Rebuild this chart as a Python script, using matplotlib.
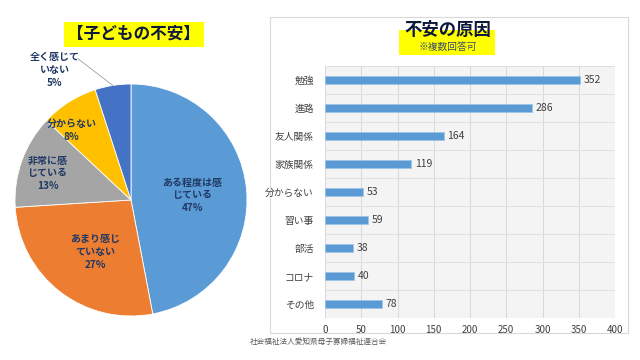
import matplotlib
matplotlib.use("Agg")
import matplotlib.pyplot as plt
from matplotlib.patches import Rectangle
import numpy as np

plt.rcParams['font.family'] = ['Noto Sans CJK JP', 'DejaVu Sans']

# pie data
pie_labels = ['ある程度は感\nじている', 'あまり感じ\nていない', '非常に感\nじている', '分からない', '全く感じて\nいない']
pie_values = [47, 27, 13, 8, 5]
pie_colors = ['#5B9BD5', '#ED7D31', '#A5A5A5', '#FFC000', '#4472C4']

# bar data
bar_cats = ['勉強', '進路', '友人関係', '家族関係', '分からない', '習い事', '部活', 'コロナ', 'その他']
bar_vals = [352, 286, 164, 119, 53, 59, 38, 40, 78]

navy = '#1F3864'
W, H = 640, 360

def fx(px):
    return px / W

def fy(py):
    return 1 - py / H

fig = plt.figure(figsize=(6.4, 3.6), dpi=100)
fig.patch.set_facecolor('white')

# ---- pie ----
axp = fig.add_axes([fx(15), fy(316), 232 / W, 232 / H])
wedges, _ = axp.pie(pie_values, colors=pie_colors, startangle=90, counterclock=False,
                    radius=1, wedgeprops=dict(edgecolor='white', linewidth=0.6))
axp.set_xlim(-1, 1)
axp.set_ylim(-1, 1)
axp.set_aspect('equal')
axp.axis('off')

label_pos = [(0.53, 0.04), (-0.31, -0.45), (-0.72, 0.23), (-0.51, 0.60), (-0.66, 1.12)]
for lab, v, (x, y) in zip(pie_labels, pie_values, label_pos):
    axp.text(x, y, f'{lab}\n{v}%', ha='center', va='center', fontsize=7.2,
             fontweight='bold', color=navy, linespacing=1.35, clip_on=False)
# leader line for smallest slice
ang = np.deg2rad(90 - 360 * (sum(pie_values[:-1]) + pie_values[-1] / 2) / sum(pie_values))
axp.plot([-0.46, np.cos(ang)], [1.22, np.sin(ang)], color='#A0A0A0', lw=0.6, clip_on=False)

fig.text(fx(134), fy(34), '【子どもの不安】', ha='center', va='center', fontsize=12,
         fontweight='bold', color='#0D1A3A',
         bbox=dict(facecolor='#FFFF00', edgecolor='none', pad=2.5))

# ---- bar panel ----
fig.patches.append(Rectangle((fx(270), fy(333)), 358 / W, 316 / H, transform=fig.transFigure,
                             facecolor='white', edgecolor='#D9D9D9', lw=0.8, zorder=-5))
fig.patches.append(Rectangle((fx(399), fy(55)), 96 / W, 25 / H, transform=fig.transFigure,
                             facecolor='#FFFF00', edgecolor='none', zorder=1))
fig.text(fx(448), fy(30), '不安の原因', ha='center', va='center', fontsize=12.5,
         fontweight='bold', color='#0D1A3A', zorder=3)
fig.text(fx(448), fy(47), '※複数回答可', ha='center', va='center', fontsize=7,
         color='#3A4A6A', zorder=3)

axb = fig.add_axes([fx(325), fy(318), 290 / W, 252 / H])
axb.set_facecolor('#F4F4F4')
y = np.arange(len(bar_cats))
axb.barh(y, bar_vals, height=0.28, color='#5B9BD5', edgecolor='#9DC3E6', lw=0.5, zorder=3)
for yi, v in zip(y, bar_vals):
    axb.text(v + 5, yi, str(v), va='center', ha='left', fontsize=7.5, color='#404040')
axb.set_xlim(0, 400)
axb.set_ylim(len(bar_cats) - 0.5, -0.5)
axb.set_xticks(np.arange(0, 401, 50))
axb.set_yticks(y)
axb.set_yticklabels(bar_cats)
axb.set_yticks(np.arange(-0.5, len(bar_cats), 1), minor=True)
axb.tick_params(axis='both', which='both', length=0, labelsize=7, labelcolor='#404040')
axb.tick_params(axis='y', pad=8)
axb.tick_params(axis='x', pad=5)
axb.grid(axis='x', color='#D9D9D9', lw=0.7, zorder=0)
axb.grid(axis='y', which='minor', color='#E0E0E0', lw=0.7, zorder=0)
for s in axb.spines.values():
    s.set_visible(False)

fig.text(fx(250), fy(342), '社会福祉法人愛知県母子寡婦福祉連合会', ha='left', va='center',
         fontsize=5.5, color='#595959')

fig.savefig('out.png', dpi=100)
